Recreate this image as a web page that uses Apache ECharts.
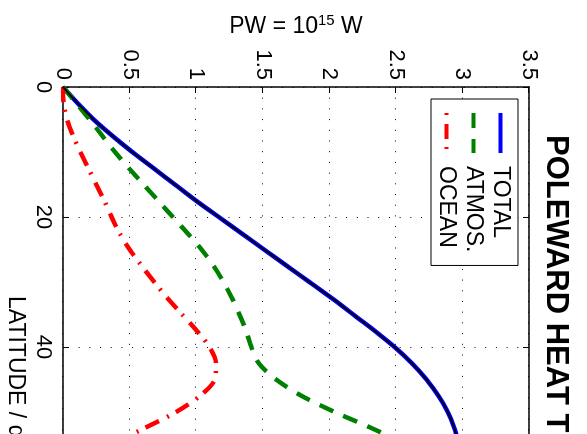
<!DOCTYPE html>
<html>
<head>
<meta charset="utf-8">
<script src="https://cdn.jsdelivr.net/npm/echarts@6/dist/echarts.min.js"></script>
<style>
html,body{margin:0;padding:0;width:587px;height:434px;overflow:hidden;background:#fff;}
#c{position:absolute;left:587px;top:0;width:760px;height:587px;transform-origin:0 0;transform:rotate(90deg);}
</style>
</head>
<body>
<div id="c"></div>
<script>
// Latitude (degrees) sample points
const latitude = [0, 2.5, 5, 7.5, 10, 12.5, 15, 17.5, 20, 22.5, 25, 27.5, 30, 32.5, 35, 37.5, 40, 42.5, 45, 47.5, 50, 52.5, 55];
// Poleward heat transport (PW)
const total = [0, 0.11, 0.23, 0.37, 0.52, 0.68, 0.84, 1.00, 1.17, 1.34, 1.51, 1.68, 1.85, 2.02, 2.18, 2.34, 2.49, 2.62, 2.73, 2.82, 2.89, 2.94, 2.97];
const atmos = [0, 0.10, 0.20, 0.295, 0.39, 0.495, 0.605, 0.715, 0.825, 0.935, 1.04, 1.13, 1.205, 1.27, 1.325, 1.375, 1.415, 1.47, 1.60, 1.79, 2.04, 2.32, 2.58];
const ocean = [0, 0.005, 0.03, 0.075, 0.13, 0.19, 0.25, 0.31, 0.365, 0.425, 0.50, 0.59, 0.685, 0.785, 0.895, 1.005, 1.10, 1.15, 1.14, 1.03, 0.85, 0.61, 0.36];
const seriesNames = ['TOTAL', 'ATMOS.', 'OCEAN'];
const pwTickLabels = ['0', '0.5', '1', '1.5', '2', '2.5', '3', '3.5'];
const latTickLabels = ['0', '20', '40', '60', '80'];

const FONT = 'Liberation Sans';
const pair = arr => latitude.map((l, i) => [l, arr[i]]);
const dotted = {show: true, lineStyle: {color: '#000', width: 1, type: [1, 9.7]}};
const axLine = {show: true, onZero: false, lineStyle: {color: '#000', width: 1.5}};
const axTick = {show: true, inside: true, length: 6, lineStyle: {color: '#000', width: 1}};

const chart = echarts.init(document.getElementById('c'), null, {renderer: 'canvas'});
chart.setOption({
  animation: false,
  backgroundColor: '#fff',
  title: {
    text: 'POLEWARD HEAT TRANSPORT', left: 130, top: 11,
    textStyle: {fontFamily: FONT, fontWeight: 'bold', fontSize: 31, color: '#000'}
  },
  legend: {
    orient: 'vertical', left: 99, top: 69,
    backgroundColor: '#fff', borderColor: '#000', borderWidth: 1, borderRadius: 0,
    padding: [6, 13, 4, 12],
    itemWidth: 40, itemHeight: 14, itemGap: 4,
    itemStyle: {opacity: 0},
    lineStyle: {width: 4},
    textStyle: {fontFamily: FONT, fontSize: 23, color: '#000', lineHeight: 23, padding: [0, 0, 0, 8]},
    data: [{name: seriesNames[0]}, {name: seriesNames[1]}, {name: seriesNames[2], lineStyle: {width: 4, dashOffset: 23}}]
  },
  grid: {left: 87, right: 88, top: 58, bottom: 63, outerBoundsMode: 'none', containLabel: false},
  xAxis: [{
    type: 'value', position: 'bottom', min: 0, max: 90, interval: 20,
    axisLine: axLine, axisTick: axTick,
    axisLabel: {margin: 9, fontFamily: FONT, fontSize: 22, color: '#000',
      formatter: v => latTickLabels[Math.round(v / 20)] ?? ''},
    splitLine: dotted,
    name: 'LATITUDE / deg', nameLocation: 'middle', nameGap: 34,
    nameTextStyle: {fontFamily: FONT, fontSize: 23, color: '#000'}
  }, {
    type: 'value', position: 'top', min: 0, max: 90, interval: 20,
    axisLine: axLine, axisTick: axTick, axisLabel: {show: false}, splitLine: {show: false}
  }],
  yAxis: [{
    type: 'value', position: 'left', min: 0, max: 3.5, interval: 0.5,
    axisLine: axLine, axisTick: axTick,
    axisLabel: {margin: 7, fontFamily: FONT, fontSize: 22, color: '#000',
      formatter: v => pwTickLabels[Math.round(v / 0.5)] ?? ''},
    splitLine: dotted,
    name: 'PW = 10{sup|15} W', nameLocation: 'middle', nameGap: 46,
    nameTextStyle: {fontFamily: FONT, fontSize: 23, color: '#000',
      rich: {sup: {fontFamily: FONT, fontSize: 15, color: '#000', padding: [0, 0, 12, 0]}}}
  }, {
    type: 'value', position: 'right', min: 0, max: 3.5, interval: 0.5,
    axisLine: axLine, axisTick: axTick, axisLabel: {show: false}, splitLine: {show: false}
  }],
  series: [{
    name: seriesNames[0], type: 'line', data: pair(total), symbol: 'none', smooth: 0.3,
    lineStyle: {color: '#0000ff', width: 4.5}, itemStyle: {color: '#0000ff'}, z: 3
  }, {
    name: 'TOTAL core', type: 'line', data: pair(total), symbol: 'none', smooth: 0.3,
    lineStyle: {color: '#000', width: 1.8}, itemStyle: {color: '#000'}, z: 4, silent: true
  }, {
    name: seriesNames[1], type: 'line', data: pair(atmos), symbol: 'none', smooth: 0.3,
    lineStyle: {color: '#008000', width: 4.5, type: [15, 11], cap: 'butt'}, itemStyle: {color: '#008000'}, z: 3
  }, {
    name: seriesNames[2], type: 'line', data: pair(ocean), symbol: 'none', smooth: 0.3,
    lineStyle: {color: '#ff0000', width: 4.5, type: [15, 8, 2, 9], cap: 'butt'}, itemStyle: {color: '#ff0000'}, z: 3
  }]
});
</script>
</body>
</html>
